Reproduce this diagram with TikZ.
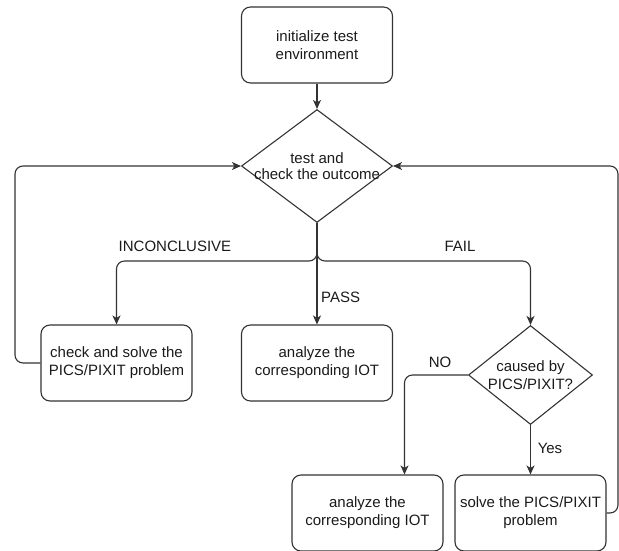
\documentclass[tikz,border=0pt]{standalone}
\usepackage{fontspec}
\setmainfont{Liberation Sans}
\usetikzlibrary{shapes.geometric,arrows.meta}
\definecolor{ln}{HTML}{333333}
\definecolor{tx}{HTML}{1A1A1A}
\begin{document}
\begin{tikzpicture}[x=1pt,y=-1pt,
  every node/.style={font=\fontsize{15}{18}\selectfont, text=tx},
  box/.style={draw=ln, line width=1.1pt, rounded corners=9pt, minimum width=151pt, minimum height=76pt, align=center, inner sep=0pt},
  dec/.style={draw=ln, line width=1.1pt, shape=diamond, inner sep=0pt},
  arr/.style={draw=ln, line width=1.1pt, rounded corners=8pt, -{Stealth[length=9pt,width=8pt,inset=2.5pt]}},
  lbl/.style={inner sep=1pt}]
\useasboundingbox (0,0) rectangle (619,551);
\node[box] (init) at (317,45) {initialize test\\environment};
\node[dec, minimum width=151pt, minimum height=113pt,
  label={[align=center, text=tx, font=\fontsize{15}{16}\selectfont]center:test and\\check the outcome}] (d1) at (317,166) {};
\node[box] (lb) at (116.5,363) {check and solve the\\PICS/PIXIT problem};
\node[box] (mb) at (317,363) {analyze the\\corresponding IOT};
\node[dec, minimum width=124pt, minimum height=99pt,
  label={[align=center, text=tx, font=\fontsize{15}{18}\selectfont]center:caused by\\PICS/PIXIT?}] (d2) at (530.5,375) {};
\node[box] (bl) at (367.5,513) {analyze the\\corresponding IOT};
\node[box] (br) at (530.5,513) {solve the PICS/PIXIT\\problem};
\coordinate (j) at (317,261);
\coordinate (ll) at (15,166);
\coordinate (rl) at (618,166);
\draw[arr] (init) -- (d1);
\draw[arr] (d1.south) -- (j) -| (lb.north);
\draw[arr] (d1.south) -- (mb.north);
\draw[arr] (d1.south) -- (j) -| (d2.north);
\draw[arr] (lb.west) -| (ll) -- (d1.west);
\draw[arr] (br.east) -| (rl) -- (d1.east);
\draw[arr] (d2.west) -| ([xshift=37pt]bl.north);
\draw[arr] (d2.south) -- (br.north);
\node[lbl] (inc) at (175,246) {INCONCLUSIVE};
\node[lbl] (fail) at (460,246) {FAIL};
\node[lbl, anchor=west] (pass) at (320,297) {PASS};
\node[lbl] (no) at (440,362) {NO};
\node[lbl] (yes) at (550,448) {Yes};
\end{tikzpicture}
\end{document}
